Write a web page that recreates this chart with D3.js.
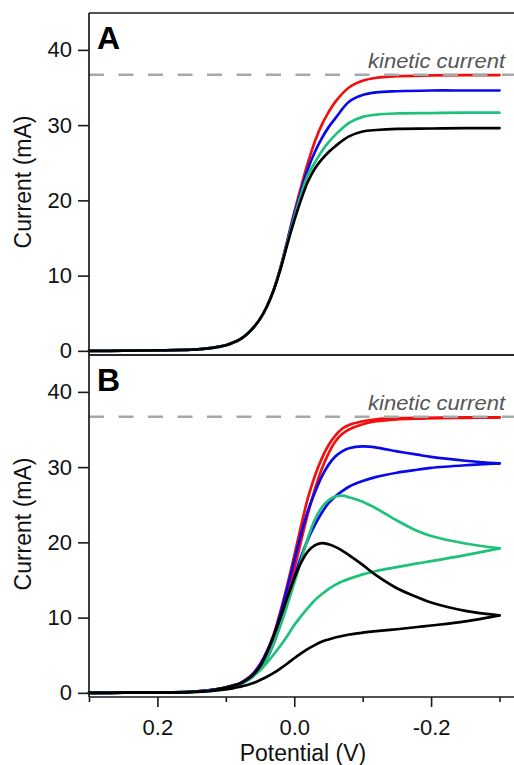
<!DOCTYPE html>
<html>
<head>
<meta charset="utf-8">
<script src="https://cdn.jsdelivr.net/npm/d3@7"></script>
<style>
  body { margin: 0; background: #fff; }
  text { font-family: "Liberation Sans", Arial, Helvetica, sans-serif; }
</style>
</head>
<body>
<svg id="chart" width="514" height="765"></svg>
<script>
// ---- Panel A: steady-state polarisation curves (potential in V, current in mA)
const potentialA = [0.30, 0.25, 0.20, 0.15, 0.12, 0.10, 0.09, 0.08, 0.07, 0.06, 0.05, 0.04, 0.03,
  0.02, 0.01, 0.00, -0.01, -0.02, -0.03, -0.04, -0.05, -0.06, -0.08, -0.10, -0.12, -0.15, -0.20, -0.25, -0.30];
const redA   = [0, 0.02, 0.06, 0.16, 0.4, 0.75, 1.08, 1.5, 2.15, 3.05, 4.25, 5.9, 8.1,
  11.1, 14.7, 18.4, 21.8, 25.0, 27.8, 30.0, 31.7, 33.1, 35.0, 35.9, 36.3, 36.5, 36.6, 36.65, 36.65];
const blueA  = [0, 0.02, 0.06, 0.16, 0.4, 0.75, 1.08, 1.5, 2.15, 3.05, 4.25, 5.9, 8.1,
  11.1, 14.6, 18.1, 21.3, 24.2, 26.4, 28.2, 29.7, 30.9, 33.1, 34.0, 34.35, 34.5, 34.6, 34.6, 34.6];
const greenA = [0, 0.02, 0.06, 0.16, 0.4, 0.75, 1.08, 1.5, 2.15, 3.05, 4.25, 5.9, 8.1,
  11.0, 14.4, 17.7, 20.8, 23.4, 25.0, 26.5, 27.7, 28.7, 30.3, 31.1, 31.4, 31.55, 31.6, 31.65, 31.65];
const blackA = [0, 0.02, 0.06, 0.16, 0.4, 0.75, 1.08, 1.5, 2.15, 3.05, 4.25, 5.9, 8.1,
  10.9, 14.2, 17.3, 20.1, 22.5, 24.2, 25.4, 26.4, 27.2, 28.5, 29.15, 29.35, 29.5, 29.55, 29.6, 29.6];

// ---- Panel B: cyclic sweeps, outgoing (0.3 -> -0.3 V) and returning branches
const potentialB = [0.30, 0.25, 0.20, 0.15, 0.12, 0.10, 0.09, 0.08, 0.07, 0.06, 0.05, 0.04, 0.03,
  0.02, 0.01, 0.00, -0.01, -0.02, -0.03, -0.04, -0.05, -0.06, -0.07, -0.08, -0.10, -0.12, -0.15, -0.18, -0.20, -0.25, -0.30];
const redOutB   = [0, 0.02, 0.05, 0.15, 0.4, 0.75, 0.98, 1.25, 1.8, 2.6, 3.8, 5.5, 7.8,
  10.9, 14.4, 18.2, 22.2, 25.9, 28.8, 31.1, 32.9, 34.2, 35.1, 35.6, 36.1, 36.35, 36.5, 36.55, 36.55, 36.6, 36.6];
const redBackB  = [0, 0.02, 0.05, 0.14, 0.36, 0.68, 0.92, 1.2, 1.65, 2.35, 3.45, 5.0, 7.0,
  9.7, 12.8, 16.4, 20.2, 23.8, 27.0, 29.7, 31.8, 33.4, 34.4, 35.0, 35.7, 36.1, 36.35, 36.45, 36.5, 36.55, 36.6];
const blueOutB  = [0, 0.02, 0.05, 0.15, 0.4, 0.75, 0.98, 1.25, 1.78, 2.55, 3.75, 5.5, 7.6,
  10.6, 14.0, 17.6, 21.1, 24.2, 26.6, 28.7, 30.3, 31.4, 32.1, 32.5, 32.75, 32.6, 32.1, 31.65, 31.35, 30.85, 30.5];
const blueBackB = [0, 0.02, 0.05, 0.14, 0.36, 0.68, 0.9, 1.15, 1.55, 2.2, 3.2, 4.6, 6.6,
  9.2, 12.3, 15.3, 18.1, 20.4, 22.3, 23.9, 25.2, 26.1, 26.8, 27.4, 28.15, 28.7, 29.25, 29.65, 29.9, 30.25, 30.5];
const greenOutB = [0, 0.02, 0.05, 0.15, 0.35, 0.65, 0.87, 1.15, 1.6, 2.3, 3.25, 4.6, 6.6,
  9.0, 11.7, 14.6, 17.6, 20.6, 23.0, 24.6, 25.6, 26.1, 26.2, 26.0, 25.4, 24.5, 22.9, 21.5, 20.85, 19.85, 19.2];
const greenBackB = [0, 0.02, 0.04, 0.12, 0.3, 0.6, 0.82, 1.1, 1.55, 2.2, 3.0, 4.0, 5.1,
  6.3, 7.6, 9.0, 10.2, 11.3, 12.3, 13.1, 13.8, 14.35, 14.8, 15.15, 15.75, 16.2, 16.7, 17.2, 17.5, 18.3, 19.2];
const blackOutB = [0, 0.02, 0.05, 0.15, 0.35, 0.7, 0.93, 1.2, 1.7, 2.4, 3.5, 5.3, 7.6,
  10.1, 12.7, 15.2, 17.3, 18.8, 19.6, 19.9, 19.75, 19.4, 18.9, 18.3, 17.0, 15.6, 13.9, 12.7, 12.0, 10.9, 10.3];
const blackBackB = [0, 0.02, 0.03, 0.1, 0.25, 0.45, 0.6, 0.8, 1.02, 1.3, 1.7, 2.15, 2.65,
  3.25, 3.9, 4.6, 5.25, 5.85, 6.35, 6.8, 7.1, 7.35, 7.55, 7.75, 8.0, 8.2, 8.45, 8.75, 8.95, 9.5, 10.3];

const kineticCurrent = 36.7;
const yTicks = [0, 10, 20, 30, 40];
const xMajorTicks = [0.2, 0.0, -0.2];
const xMinorTicks = [0.3, 0.1, -0.1, -0.3];

const colors = { red: "#f01010", blue: "#0a0ae8", green: "#1ec27a", black: "#000000" };

// ---- layout
const svg = d3.select("#chart");
const left = 89, right = 514;
const x = d3.scaleLinear().domain([0.3, -0.3]).range([89, 499.5]);
const yA = d3.scaleLinear().domain([-0.55, 44.9]).range([355, 13]);
const yB = d3.scaleLinear().domain([-0.55, 44.9]).range([697, 355]);

const zip = (vs, is) => vs.map((v, k) => ({ v, i: is[k] })).sort((a, b) => a.v - b.v);

function drawPanel(y, series, label) {
  const g = svg.append("g");
  const line = d3.line().x(d => x(d.v)).y(d => y(d.i)).curve(d3.curveCatmullRom.alpha(0.5));

  series.forEach(s => {
    g.append("path")
      .attr("d", line(zip(s.v, s.i)))
      .attr("fill", "none")
      .attr("stroke", s.color)
      .attr("stroke-width", 2.7)
      .attr("stroke-linecap", "round")
      .attr("stroke-linejoin", "round");
  });

  // kinetic-current limit
  g.append("line")
    .attr("x1", left).attr("x2", right)
    .attr("y1", y(kineticCurrent)).attr("y2", y(kineticCurrent))
    .attr("stroke", "#a8a8a8").attr("stroke-width", 2.4)
    .attr("stroke-dasharray", "15 14.5");
  g.append("text")
    .attr("x", 368).attr("y", y(kineticCurrent) - 6.3)
    .attr("font-size", 20).attr("font-style", "italic")
    .attr("fill", "#555")
    .attr("textLength", 137).attr("lengthAdjust", "spacingAndGlyphs")
    .text("kinetic current");

  // y axis
  const ax = g.append("g")
    .attr("transform", `translate(${left},0)`)
    .call(d3.axisLeft(y).tickValues(yTicks).tickSize(11).tickPadding(6).tickFormat(d3.format("d")));
  ax.select(".domain").remove();
  ax.selectAll(".tick line").attr("stroke", "#1a1a1a").attr("stroke-width", 1.6);
  ax.selectAll(".tick text").attr("font-size", 22).attr("fill", "#111")
    .style("font-family", '"Liberation Sans", Arial, sans-serif');

  // frame pieces
  const [yBottom, yTop] = y.range();
  g.append("line").attr("x1", left).attr("x2", left).attr("y1", yTop).attr("y2", yBottom)
    .attr("stroke", "#1a1a1a").attr("stroke-width", 1.7);
  g.append("line").attr("x1", left).attr("x2", right + 2).attr("y1", yBottom).attr("y2", yBottom)
    .attr("stroke", "#1a1a1a").attr("stroke-width", 1.7);
  g.append("line").attr("x1", left).attr("x2", right + 2).attr("y1", yTop).attr("y2", yTop)
    .attr("stroke", "#1a1a1a").attr("stroke-width", 1.7);

  // panel letter
  g.append("text").attr("x", 97).attr("y", yTop + 35.5)
    .attr("font-size", 32).attr("font-weight", "bold").attr("fill", "#000")
    .text(label);

  // y title
  g.append("text")
    .attr("transform", `translate(31,${(yTop + yBottom) / 2 - 2}) rotate(-90)`)
    .attr("text-anchor", "middle").attr("font-size", 23).attr("fill", "#111")
    .text("Current (mA)");
}

drawPanel(yA, [
  { v: potentialA, i: redA, color: colors.red },
  { v: potentialA, i: blueA, color: colors.blue },
  { v: potentialA, i: greenA, color: colors.green },
  { v: potentialA, i: blackA, color: colors.black }
], "A");

drawPanel(yB, [
  { v: potentialB, i: redOutB, color: colors.red },
  { v: potentialB, i: redBackB, color: colors.red },
  { v: potentialB, i: blueOutB, color: colors.blue },
  { v: potentialB, i: blueBackB, color: colors.blue },
  { v: potentialB, i: greenOutB, color: colors.green },
  { v: potentialB, i: greenBackB, color: colors.green },
  { v: potentialB, i: blackOutB, color: colors.black },
  { v: potentialB, i: blackBackB, color: colors.black }
], "B");

// ---- shared potential axis under panel B
const xBase = yB.range()[0];
const xMajor = svg.append("g").attr("transform", `translate(0,${xBase})`)
  .call(d3.axisBottom(x).tickValues(xMajorTicks).tickSize(10).tickPadding(12)
    .tickFormat(d => d.toFixed(1)));
xMajor.select(".domain").remove();
xMajor.selectAll(".tick line").attr("stroke", "#1a1a1a").attr("stroke-width", 1.6);
xMajor.selectAll(".tick text").attr("font-size", 22).attr("fill", "#111")
  .style("font-family", '"Liberation Sans", Arial, sans-serif');

const xMinor = svg.append("g").attr("transform", `translate(0,${xBase})`)
  .call(d3.axisBottom(x).tickValues(xMinorTicks).tickSize(5).tickFormat(""));
xMinor.select(".domain").remove();
xMinor.selectAll(".tick line").attr("stroke", "#1a1a1a").attr("stroke-width", 1.6);

svg.append("text")
  .attr("x", 303).attr("y", 761)
  .attr("text-anchor", "middle").attr("font-size", 23).attr("fill", "#111")
  .text("Potential (V)");
</script>
</body>
</html>
